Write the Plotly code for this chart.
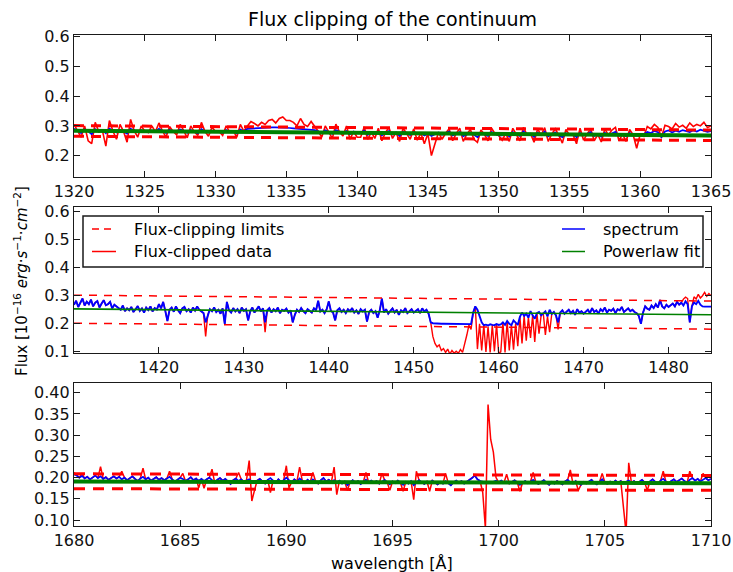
import numpy as np
import plotly.graph_objects as go

FONT = "DejaVu Sans"
W, H = 733, 572

# ---------------- Panel 1: 1320-1365 A ----------------
p1_range = [1320.0, 1365.0]
p1_blue = [
    0.290, 0.285, 0.276, 0.288, 0.282, 0.272, 0.289, 0.280, 0.286, 0.275, 0.291, 0.283, 0.278, 0.287, 0.281, 0.274, 0.290, 0.284, 0.279, 0.286, 0.282,
    0.278, 0.285, 0.280, 0.290, 0.283, 0.276, 0.287, 0.281, 0.279, 0.288, 0.284, 0.277, 0.286, 0.280, 0.275, 0.289, 0.282, 0.278, 0.284, 0.280,
    0.281, 0.277, 0.286, 0.279, 0.283, 0.275, 0.288, 0.282, 0.290, 0.291, 0.292, 0.293, 0.293, 0.294, 0.294, 0.295, 0.295, 0.295, 0.294, 0.293,
    0.293, 0.292, 0.291, 0.290, 0.289, 0.288, 0.287, 0.286, 0.282, 0.276, 0.285, 0.279, 0.274, 0.286, 0.280, 0.277, 0.283, 0.272, 0.281, 0.276,
    0.276, 0.284, 0.270, 0.279, 0.273, 0.281, 0.268, 0.277, 0.283, 0.271, 0.278, 0.266, 0.280, 0.274, 0.269, 0.279, 0.272, 0.276, 0.268, 0.274,
    0.266, 0.272, 0.278, 0.270, 0.275, 0.281, 0.268, 0.274, 0.279, 0.265, 0.272, 0.277, 0.270, 0.262, 0.276, 0.271, 0.266, 0.279, 0.273, 0.268,
    0.268, 0.275, 0.264, 0.279, 0.271, 0.266, 0.282, 0.270, 0.274, 0.263, 0.277, 0.269, 0.281, 0.265, 0.272, 0.278, 0.268, 0.262, 0.275, 0.270,
    0.270, 0.262, 0.276, 0.268, 0.273, 0.279, 0.266, 0.271, 0.264, 0.277, 0.269, 0.274, 0.280, 0.267, 0.272, 0.265, 0.276, 0.270, 0.268, 0.272,
    0.272, 0.280, 0.276, 0.283, 0.279, 0.262, 0.281, 0.285, 0.278, 0.284, 0.280, 0.286, 0.282, 0.279, 0.285, 0.281, 0.287, 0.283, 0.280, 0.282,
]
p1_red = [
    0.305, 0.285, 0.262, 0.300, 0.250, 0.240, 0.312, 0.280, 0.286, 0.232, 0.318, 0.283, 0.255, 0.305, 0.281, 0.245, 0.322, 0.284, 0.262, 0.300, 0.282,
    0.278, 0.300, 0.280, 0.310, 0.283, 0.262, 0.298, 0.281, 0.270, 0.305, 0.284, 0.260, 0.300, 0.280, 0.268, 0.312, 0.282, 0.265, 0.296, 0.280,
    0.281, 0.268, 0.300, 0.279, 0.283, 0.262, 0.305, 0.282, 0.300, 0.315, 0.308, 0.300, 0.312, 0.305, 0.318, 0.322, 0.310, 0.325, 0.330, 0.318,
    0.318, 0.312, 0.300, 0.325, 0.305, 0.298, 0.315, 0.300, 0.282, 0.262, 0.300, 0.279, 0.258, 0.306, 0.280, 0.266, 0.300, 0.255, 0.281, 0.262,
    0.262, 0.296, 0.255, 0.279, 0.258, 0.292, 0.250, 0.277, 0.295, 0.258, 0.278, 0.248, 0.292, 0.274, 0.255, 0.290, 0.252, 0.276, 0.240, 0.274,
    0.200, 0.240, 0.278, 0.255, 0.275, 0.290, 0.250, 0.274, 0.292, 0.248, 0.272, 0.288, 0.255, 0.245, 0.286, 0.271, 0.250, 0.292, 0.273, 0.268,
    0.252, 0.275, 0.248, 0.292, 0.271, 0.250, 0.295, 0.270, 0.274, 0.245, 0.290, 0.269, 0.294, 0.248, 0.272, 0.290, 0.268, 0.242, 0.288, 0.270,
    0.270, 0.240, 0.292, 0.252, 0.273, 0.290, 0.250, 0.271, 0.246, 0.290, 0.269, 0.286, 0.295, 0.250, 0.272, 0.248, 0.288, 0.270, 0.225, 0.272,
    0.265, 0.298, 0.290, 0.305, 0.295, 0.262, 0.302, 0.298, 0.290, 0.308, 0.296, 0.302, 0.292, 0.310, 0.298, 0.305, 0.300, 0.312, 0.295, 0.300,
]
p1_fit = [0.284, 0.268]
p1_upper = [0.301, 0.286]
p1_lower = [0.265, 0.251]

# ---------------- Panel 2: 1410-1485 A ----------------
p2_range = [1410.0, 1485.0]
p2_blue = [
    0.268, 0.282, 0.260, 0.276, 0.290, 0.265, 0.279, 0.270, 0.286, 0.262, 0.275, 0.281, 0.258, 0.272, 0.284, 0.266, 0.270, 0.278, 0.255, 0.268, 0.262,
    0.258, 0.250, 0.265, 0.245, 0.255, 0.248, 0.260, 0.242, 0.252, 0.263, 0.246, 0.255, 0.240, 0.258, 0.249, 0.262, 0.244, 0.256, 0.251, 0.270,
    0.255, 0.278, 0.246, 0.210, 0.250, 0.258, 0.243, 0.262, 0.248, 0.238, 0.255, 0.260, 0.245, 0.252, 0.240, 0.258, 0.247, 0.262, 0.250, 0.244,
    0.238, 0.205, 0.232, 0.252, 0.245, 0.258, 0.242, 0.250, 0.236, 0.255, 0.200, 0.278, 0.248, 0.240, 0.256, 0.244, 0.252, 0.238, 0.258, 0.246,
    0.252, 0.212, 0.245, 0.258, 0.240, 0.250, 0.262, 0.244, 0.255, 0.205, 0.248, 0.256, 0.240, 0.252, 0.245, 0.258, 0.238, 0.250, 0.246, 0.254,
    0.240, 0.248, 0.205, 0.232, 0.250, 0.242, 0.256, 0.245, 0.238, 0.252, 0.246, 0.240, 0.255, 0.248, 0.282, 0.244, 0.250, 0.238, 0.252, 0.280,
    0.246, 0.240, 0.212, 0.248, 0.255, 0.242, 0.250, 0.238, 0.252, 0.245, 0.256, 0.240, 0.248, 0.235, 0.252, 0.244, 0.250, 0.208, 0.242, 0.250,
    0.238, 0.245, 0.222, 0.248, 0.290, 0.240, 0.252, 0.236, 0.246, 0.255, 0.240, 0.250, 0.232, 0.248, 0.242, 0.256, 0.238, 0.245, 0.252, 0.240,
    0.246, 0.252, 0.238, 0.255, 0.244, 0.250, 0.236, 0.205, 0.202, 0.201, 0.201, 0.200, 0.200, 0.200, 0.200, 0.199, 0.199, 0.199, 0.199, 0.199,
    0.199, 0.199, 0.198, 0.198, 0.198, 0.198, 0.199, 0.240, 0.262, 0.250, 0.228, 0.205, 0.195, 0.197, 0.194, 0.198, 0.196, 0.195, 0.199, 0.196,
    0.198, 0.205, 0.196, 0.210, 0.200, 0.195, 0.212, 0.202, 0.196, 0.225, 0.240, 0.228, 0.236, 0.222, 0.245, 0.230, 0.218, 0.238, 0.242, 0.230,
    0.238, 0.244, 0.226, 0.250, 0.235, 0.242, 0.230, 0.205, 0.240, 0.248, 0.236, 0.244, 0.250, 0.238, 0.246, 0.232, 0.252, 0.240, 0.245, 0.236,
    0.244, 0.250, 0.238, 0.256, 0.242, 0.248, 0.236, 0.252, 0.245, 0.258, 0.240, 0.250, 0.246, 0.254, 0.238, 0.252, 0.248, 0.260, 0.242, 0.250,
    0.255, 0.245, 0.250, 0.242, 0.238, 0.228, 0.200, 0.240, 0.262, 0.254, 0.250, 0.265, 0.256, 0.270, 0.258, 0.285, 0.262, 0.255, 0.268, 0.260,
    0.265, 0.272, 0.262, 0.278, 0.268, 0.275, 0.265, 0.280, 0.270, 0.205, 0.262, 0.276, 0.270, 0.282, 0.268, 0.262, 0.261, 0.261, 0.261, 0.261,
]
p2_red = [
    0.268, 0.282, 0.260, 0.276, 0.290, 0.265, 0.279, 0.270, 0.286, 0.262, 0.275, 0.281, 0.258, 0.272, 0.284, 0.266, 0.270, 0.278, 0.255, 0.268, 0.262,
    0.258, 0.250, 0.265, 0.245, 0.255, 0.248, 0.260, 0.242, 0.252, 0.263, 0.246, 0.255, 0.240, 0.258, 0.249, 0.262, 0.244, 0.256, 0.251, 0.270,
    0.255, 0.278, 0.246, 0.210, 0.250, 0.258, 0.243, 0.262, 0.248, 0.238, 0.255, 0.260, 0.245, 0.252, 0.240, 0.258, 0.247, 0.262, 0.250, 0.244,
    0.238, 0.155, 0.232, 0.252, 0.245, 0.258, 0.242, 0.250, 0.236, 0.255, 0.200, 0.278, 0.248, 0.240, 0.256, 0.244, 0.252, 0.238, 0.258, 0.246,
    0.252, 0.212, 0.245, 0.258, 0.240, 0.250, 0.262, 0.244, 0.255, 0.170, 0.248, 0.256, 0.240, 0.252, 0.245, 0.258, 0.238, 0.250, 0.246, 0.254,
    0.240, 0.248, 0.205, 0.232, 0.250, 0.242, 0.256, 0.245, 0.238, 0.252, 0.246, 0.240, 0.255, 0.248, 0.282, 0.244, 0.250, 0.238, 0.252, 0.280,
    0.246, 0.240, 0.212, 0.248, 0.255, 0.242, 0.250, 0.238, 0.252, 0.245, 0.256, 0.240, 0.248, 0.235, 0.252, 0.244, 0.250, 0.208, 0.242, 0.250,
    0.238, 0.245, 0.222, 0.248, 0.290, 0.240, 0.252, 0.236, 0.246, 0.255, 0.240, 0.250, 0.232, 0.248, 0.242, 0.256, 0.238, 0.245, 0.252, 0.240,
    0.246, 0.252, 0.238, 0.255, 0.244, 0.250, 0.236, 0.205, 0.155, 0.130, 0.118, 0.125, 0.105, 0.112, 0.098, 0.110, 0.092, 0.105, 0.095, 0.102,
    0.095, 0.108, 0.098, 0.125, 0.160, 0.195, 0.180, 0.240, 0.262, 0.110, 0.200, 0.105, 0.195, 0.100, 0.190, 0.098, 0.196, 0.102, 0.199, 0.095,
    0.100, 0.205, 0.098, 0.210, 0.105, 0.195, 0.108, 0.202, 0.120, 0.225, 0.130, 0.228, 0.140, 0.222, 0.150, 0.230, 0.135, 0.238, 0.165, 0.230,
    0.238, 0.160, 0.226, 0.170, 0.235, 0.242, 0.230, 0.180, 0.240, 0.248, 0.236, 0.244, 0.250, 0.238, 0.246, 0.232, 0.252, 0.240, 0.245, 0.236,
    0.244, 0.250, 0.238, 0.256, 0.242, 0.248, 0.236, 0.252, 0.245, 0.258, 0.240, 0.250, 0.246, 0.254, 0.238, 0.252, 0.248, 0.260, 0.242, 0.250,
    0.255, 0.245, 0.250, 0.242, 0.238, 0.228, 0.200, 0.240, 0.262, 0.254, 0.250, 0.265, 0.256, 0.270, 0.258, 0.285, 0.262, 0.255, 0.268, 0.260,
    0.265, 0.272, 0.262, 0.278, 0.268, 0.275, 0.288, 0.295, 0.290, 0.205, 0.262, 0.296, 0.288, 0.305, 0.292, 0.300, 0.312, 0.298, 0.308, 0.300,
]
p2_fit = [0.253, 0.232]
p2_upper = [0.302, 0.281]
p2_lower = [0.202, 0.181]

# ---------------- Panel 3: 1680-1710 A ----------------
p3_range = [1680.0, 1710.0]
p3_blue = [
    0.208, 0.205, 0.200, 0.204, 0.198, 0.202, 0.196, 0.200, 0.205, 0.199, 0.203, 0.197, 0.201, 0.195, 0.199, 0.203, 0.198,
    0.202, 0.196, 0.200, 0.194, 0.199, 0.203, 0.197, 0.192, 0.198, 0.202, 0.196, 0.200, 0.193, 0.197, 0.201, 0.195,
    0.199, 0.194, 0.198, 0.202, 0.196, 0.190, 0.195, 0.200, 0.197, 0.192, 0.196, 0.201, 0.194, 0.198, 0.193, 0.197,
    0.192, 0.196, 0.200, 0.194, 0.188, 0.195, 0.199, 0.193, 0.197, 0.191, 0.185, 0.194, 0.198, 0.192, 0.196, 0.190,
    0.194, 0.196, 0.190, 0.188, 0.193, 0.197, 0.191, 0.186, 0.195, 0.199, 0.193, 0.188, 0.196, 0.190, 0.194, 0.200,
    0.194, 0.189, 0.196, 0.191, 0.198, 0.193, 0.187, 0.195, 0.190, 0.196, 0.192, 0.186, 0.194, 0.199, 0.191, 0.195,
    0.190, 0.194, 0.188, 0.193, 0.186, 0.191, 0.182, 0.189, 0.194, 0.188, 0.192, 0.185, 0.190, 0.195, 0.189, 0.193,
    0.188, 0.192, 0.186, 0.190, 0.195, 0.189, 0.184, 0.191, 0.187, 0.193, 0.188, 0.183, 0.190, 0.186, 0.192, 0.182,
    0.188, 0.194, 0.189, 0.185, 0.191, 0.187, 0.193, 0.188, 0.184, 0.190, 0.186, 0.192, 0.187, 0.182, 0.189, 0.193,
    0.188, 0.192, 0.186, 0.190, 0.195, 0.199, 0.205, 0.196, 0.192, 0.190, 0.189, 0.189, 0.189, 0.190, 0.193, 0.189,
    0.193, 0.188, 0.191, 0.186, 0.190, 0.194, 0.189, 0.183, 0.188, 0.192, 0.187, 0.191, 0.195, 0.189, 0.185, 0.190,
    0.194, 0.188, 0.183, 0.190, 0.186, 0.192, 0.188, 0.184, 0.191, 0.195, 0.189, 0.186, 0.192, 0.187, 0.183, 0.190,
    0.186, 0.191, 0.195, 0.188, 0.184, 0.190, 0.196, 0.189, 0.185, 0.191, 0.187, 0.193, 0.188, 0.192, 0.187, 0.190,
    0.193, 0.188, 0.192, 0.186, 0.190, 0.195, 0.189, 0.184, 0.191, 0.196, 0.190, 0.186, 0.193, 0.197, 0.191, 0.187,
    0.192, 0.196, 0.190, 0.194, 0.198, 0.192, 0.188, 0.195, 0.199, 0.193, 0.197, 0.191, 0.195, 0.199, 0.194, 0.197,
]
p3_red = [
    0.212, 0.205, 0.200, 0.210, 0.198, 0.202, 0.196, 0.200, 0.205, 0.199, 0.226, 0.197, 0.201, 0.195, 0.199, 0.203, 0.198,
    0.202, 0.215, 0.200, 0.194, 0.199, 0.203, 0.197, 0.192, 0.198, 0.222, 0.196, 0.200, 0.193, 0.197, 0.201, 0.195,
    0.199, 0.194, 0.198, 0.215, 0.196, 0.190, 0.195, 0.200, 0.210, 0.192, 0.196, 0.201, 0.194, 0.198, 0.176, 0.197,
    0.175, 0.196, 0.200, 0.220, 0.188, 0.195, 0.199, 0.193, 0.197, 0.191, 0.185, 0.194, 0.198, 0.212, 0.196, 0.190,
    0.194, 0.240, 0.145, 0.170, 0.193, 0.197, 0.191, 0.186, 0.195, 0.165, 0.193, 0.188, 0.196, 0.190, 0.194, 0.228,
    0.176, 0.189, 0.196, 0.191, 0.225, 0.193, 0.187, 0.195, 0.190, 0.212, 0.192, 0.186, 0.194, 0.199, 0.191, 0.195,
    0.190, 0.225, 0.160, 0.193, 0.186, 0.191, 0.170, 0.189, 0.194, 0.188, 0.192, 0.185, 0.190, 0.212, 0.189, 0.193,
    0.188, 0.192, 0.186, 0.210, 0.195, 0.189, 0.170, 0.191, 0.187, 0.193, 0.188, 0.168, 0.190, 0.186, 0.192, 0.148,
    0.215, 0.194, 0.189, 0.185, 0.191, 0.168, 0.193, 0.188, 0.184, 0.190, 0.186, 0.210, 0.187, 0.182, 0.189, 0.193,
    0.188, 0.192, 0.186, 0.190, 0.195, 0.199, 0.205, 0.196, 0.192, 0.165, 0.080, 0.372, 0.290, 0.260, 0.200, 0.189,
    0.193, 0.188, 0.208, 0.186, 0.190, 0.194, 0.189, 0.168, 0.188, 0.192, 0.187, 0.191, 0.212, 0.189, 0.185, 0.190,
    0.194, 0.188, 0.183, 0.190, 0.186, 0.192, 0.188, 0.184, 0.191, 0.195, 0.218, 0.186, 0.192, 0.170, 0.183, 0.190,
    0.186, 0.191, 0.195, 0.188, 0.184, 0.190, 0.210, 0.189, 0.185, 0.191, 0.187, 0.193, 0.188, 0.192, 0.134, 0.070,
    0.235, 0.188, 0.192, 0.186, 0.190, 0.195, 0.189, 0.170, 0.191, 0.196, 0.190, 0.186, 0.193, 0.215, 0.191, 0.187,
    0.192, 0.196, 0.190, 0.194, 0.198, 0.192, 0.188, 0.215, 0.199, 0.193, 0.197, 0.191, 0.210, 0.199, 0.194, 0.197,
]
p3_fit = [0.191, 0.187]
p3_upper = [0.209, 0.205]
p3_lower = [0.174, 0.170]

# ---------------- Axis settings ----------------
p1_xticks = [1320, 1325, 1330, 1335, 1340, 1345, 1350, 1355, 1360, 1365]
p1_yticks = [0.2, 0.3, 0.4, 0.5, 0.6]
p2_xticks = [1420, 1430, 1440, 1450, 1460, 1470, 1480]
p2_yticks = [0.1, 0.2, 0.3, 0.4, 0.5, 0.6]
p3_xticks = [1680, 1685, 1690, 1695, 1700, 1705, 1710]
p3_yticks = [0.10, 0.15, 0.20, 0.25, 0.30, 0.35, 0.40]

RED = "#ff0000"
BLUE = "#0000ff"
GREEN = "#008000"


def px(x):
    return x / W


def py(y):
    return 1 - y / H


panels = [
    dict(rng=p1_range, blue=p1_blue, red=p1_red, fit=p1_fit, up=p1_upper, lo=p1_lower,
         xt=p1_xticks, yt=p1_yticks, yfmt=".1f", yr=[0.128, 0.606], top=35, bot=177,
         lw_red=1.6, lw_blue=1.7, lw_lim=3.0, dash="10px,7px", lw_fit=4.0),
    dict(rng=p2_range, blue=p2_blue, red=p2_red, fit=p2_fit, up=p2_upper, lo=p2_lower,
         xt=p2_xticks, yt=p2_yticks, yfmt=".1f", yr=[0.096, 0.616], top=207, bot=353,
         lw_red=1.4, lw_blue=1.9, lw_lim=1.5, dash="8px,7px", lw_fit=1.6),
    dict(rng=p3_range, blue=p3_blue, red=p3_red, fit=p3_fit, up=p3_upper, lo=p3_lower,
         xt=p3_xticks, yt=p3_yticks, yfmt=".2f", yr=[0.086, 0.423], top=383, bot=526,
         lw_red=1.5, lw_blue=1.7, lw_lim=3.0, dash="11px,8px", lw_fit=4.0),
]

fig = go.Figure()
layout = dict(
    width=W, height=H, margin=dict(l=0, r=0, t=0, b=0, autoexpand=False),
    paper_bgcolor="white", plot_bgcolor="white", showlegend=False,
    font=dict(family=FONT, color="#000000"),
)

axis_common = dict(
    showline=True, linecolor="#1a1a1a", linewidth=1.3, mirror="ticks",
    ticks="inside", ticklen=6, tickwidth=1.1, tickcolor="#1a1a1a",
    showgrid=False, zeroline=False, automargin=False,
    tickfont=dict(family=FONT, size=16, color="#111111"),
)

for i, p in enumerate(panels):
    k = "" if i == 0 else str(i + 1)
    xa, ya = "x" + k, "y" + k
    xr = np.linspace(p["rng"][0], p["rng"][1], len(p["red"]))
    xb = np.linspace(p["rng"][0], p["rng"][1], len(p["blue"]))
    xe = [p["rng"][0], p["rng"][1]]
    fig.add_trace(go.Scatter(x=xr, y=p["red"], mode="lines", xaxis=xa, yaxis=ya,
                             line=dict(color=RED, width=p["lw_red"]), name="Flux-clipped data"))
    fig.add_trace(go.Scatter(x=xb, y=p["blue"], mode="lines", xaxis=xa, yaxis=ya,
                             line=dict(color=BLUE, width=p["lw_blue"]), name="spectrum"))
    for lim in (p["up"], p["lo"]):
        fig.add_trace(go.Scatter(x=xe, y=lim, mode="lines", xaxis=xa, yaxis=ya,
                                 line=dict(color=RED, width=p["lw_lim"], dash=p["dash"]),
                                 name="Flux-clipping limits"))
    fig.add_trace(go.Scatter(x=xe, y=p["fit"], mode="lines", xaxis=xa, yaxis=ya,
                             line=dict(color=GREEN, width=p["lw_fit"]), name="Powerlaw fit"))

    layout["xaxis" + k] = dict(axis_common, domain=[px(74), px(711)], range=p["rng"],
                               tickvals=p["xt"], ticktext=[str(v) for v in p["xt"]],
                               anchor=ya)
    layout["yaxis" + k] = dict(axis_common, domain=[py(p["bot"]), py(p["top"])], range=p["yr"],
                               tickvals=p["yt"], tickformat=p["yfmt"], anchor=xa)

fig.update_layout(**layout)

# Title and axis labels
fig.add_annotation(text="Flux clipping of the continuum", xref="paper", yref="paper",
                   x=px(392.5), y=py(19), showarrow=False, xanchor="center", yanchor="middle",
                   font=dict(family=FONT, size=19, color="#000000"))
fig.add_annotation(text="wavelength [Å]", xref="paper", yref="paper",
                   x=px(392.5), y=py(563), showarrow=False, xanchor="center", yanchor="middle",
                   font=dict(family=FONT, size=16, color="#000000"))
fig.add_annotation(text="Flux [10<sup>−16</sup> <i>erg</i>·<i>s</i><sup>−1</sup>·<i>cm</i><sup>−2</sup>]",
                   xref="paper", yref="paper", x=px(21), y=py(281), showarrow=False,
                   textangle=-90, xanchor="center", yanchor="middle",
                   font=dict(family=FONT, size=15, color="#000000"))

# Legend (drawn in the middle panel)
shapes = [
    dict(type="rect", xref="paper", yref="paper", x0=px(83), x1=px(703), y0=py(267), y1=py(216),
         line=dict(color="#1a1a1a", width=1.5), fillcolor="white", layer="above"),
    dict(type="line", xref="paper", yref="paper", x0=px(92), x1=px(116), y0=py(229), y1=py(229),
         line=dict(color=RED, width=1.5, dash="7px,5px"), layer="above"),
    dict(type="line", xref="paper", yref="paper", x0=px(92), x1=px(116), y0=py(251.5), y1=py(251.5),
         line=dict(color=RED, width=1.5), layer="above"),
    dict(type="line", xref="paper", yref="paper", x0=px(562), x1=px(585), y0=py(229), y1=py(229),
         line=dict(color=BLUE, width=1.5), layer="above"),
    dict(type="line", xref="paper", yref="paper", x0=px(562), x1=px(585), y0=py(251.5), y1=py(251.5),
         line=dict(color=GREEN, width=1.5), layer="above"),
]
fig.update_layout(shapes=shapes)
for txt, x, y in [("Flux-clipping limits", 132, 229), ("Flux-clipped data", 132, 251.5),
                  ("spectrum", 601, 229), ("Powerlaw fit", 601, 251.5)]:
    fig.add_annotation(text=txt, xref="paper", yref="paper", x=px(x), y=py(y), showarrow=False,
                       xanchor="left", yanchor="middle",
                       font=dict(family=FONT, size=16, color="#000000"))

fig.write_html("out.html")
